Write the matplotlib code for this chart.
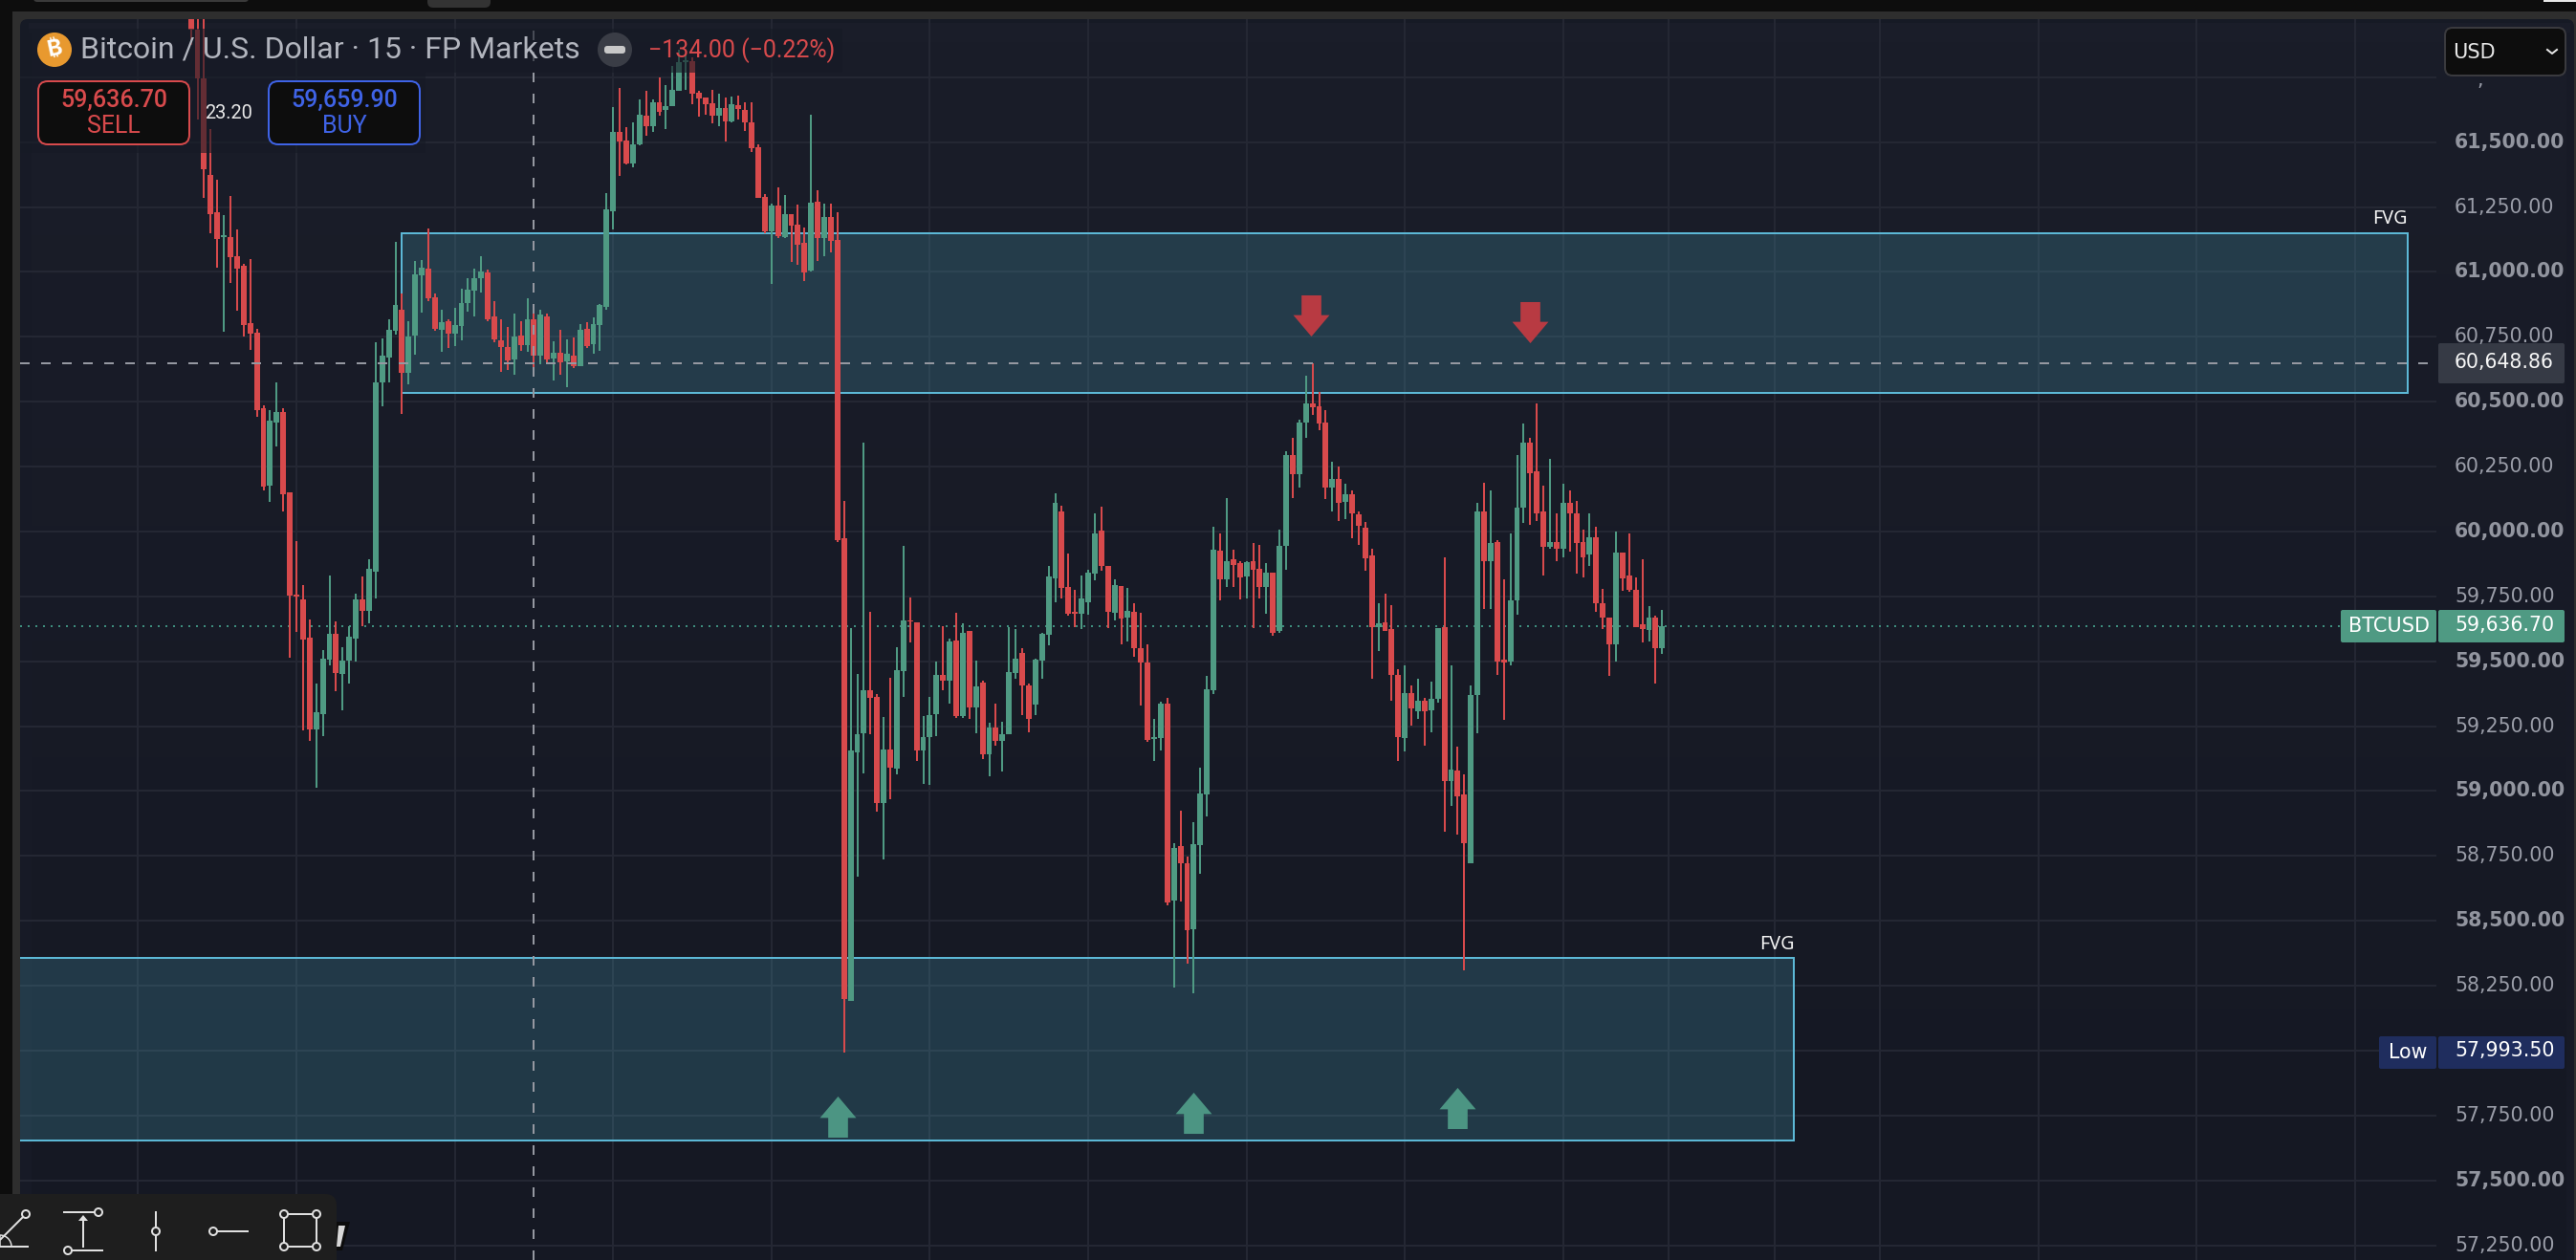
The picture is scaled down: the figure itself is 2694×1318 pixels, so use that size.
import numpy as np
import matplotlib
matplotlib.use("Agg")
import matplotlib.pyplot as plt
from matplotlib.patches import FancyBboxPatch, Rectangle, Circle, Polygon, Wedge
from matplotlib.path import Path

# ---------- data ----------
first_bar = -16  # bar index 0 sits on the 310 px grid line

opens = [
    62100, 61933, 61744, 61373, 61230, 61135, 61135, 61061, 61025, 60804,
    60767, 60474, 60176, 60419, 60460, 60151, 59757, 59739, 59592, 59239,
    59298, 59507, 59607, 59452, 59504, 59588, 59739, 59695, 59846, 60576,
    60672, 60773, 60854, 60612, 60755, 60987, 61012, 60902, 60777, 60810,
    60762, 60792, 60880, 60928, 60975, 60998, 60828, 60737, 60711, 60663,
    60755, 60718, 60817, 60677, 60829, 60667, 60689, 60656, 60678, 60637,
    60781, 60722, 60795, 60866, 61234, 61539, 61506, 61418, 61491, 61602,
    61561, 61653, 61624, 61638, 61697, 61808, 61811, 61690, 61672, 61650,
    61602, 61631, 61580, 61642, 61624, 61576, 61480, 61289, 61157, 61256,
    61135, 61223, 61183, 61113, 61006, 61271, 61131, 61212, 61124, 59973,
    58192, 59148, 59222, 59388, 59362, 58953, 59160, 59086, 59462, 59659,
    59649, 59156, 59207, 59296, 59447, 59424, 59579, 59289, 59616, 59321,
    59417, 59142, 59243, 59192, 59219, 59454, 59531, 59406, 59332, 59501,
    59603, 59820, 60076, 59786, 59689, 59682, 59726, 59838, 60002, 59869,
    59685, 59789, 59667, 59689, 59549, 59495, 59199, 59204, 59335, 58578,
    58788, 58721, 58468, 58792, 58987, 59388, 59925, 59815, 59892, 59877,
    59825, 59887, 59858, 59785, 59840, 59616, 59946, 60296, 60219, 60418,
    60492, 60484, 60418, 60170, 60201, 60114, 60142, 60065, 60014, 59907,
    59633, 59649, 59623, 59447, 59204, 59376, 59306, 59347, 59311, 59355,
    59631, 59038, 59079, 58987, 58721, 59370, 60076, 59884, 59958, 59505,
    59500, 59733, 60091, 60344, 60231, 60076, 59940, 59961, 59932, 60112,
    60071, 59961, 59910, 59979, 59723, 59667, 59564, 59917, 59830, 59774,
    59641, 59620, 59670, 59549,
]
highs = [
    62200, 62050, 62100, 61550, 61355, 61219, 61293, 61164, 61032, 61050,
    60782, 60485, 60467, 60576, 60474, 60151, 59963, 59794, 59662, 59415,
    59544, 59831, 59654, 59555, 59636, 59761, 59827, 59893, 60729, 60744,
    60819, 61115, 60917, 60810, 61042, 61045, 61167, 60917, 60854, 60817,
    60862, 60935, 60975, 61012, 61060, 61009, 60887, 60817, 60788, 60839,
    60810, 60898, 60869, 60854, 60839, 60733, 60777, 60740, 60748, 60799,
    60806, 60825, 60876, 61304, 61635, 61708, 61558, 61576, 61664, 61697,
    61664, 61749, 61719, 61793, 61855, 61838, 61826, 61697, 61672, 61701,
    61686, 61672, 61675, 61679, 61653, 61653, 61491, 61300, 61263, 61326,
    61297, 61223, 61260, 61172, 61605, 61315, 61263, 61263, 61230, 60119,
    59626, 59450, 60341, 59689, 59373, 59284, 59436, 59554, 59943, 59744,
    59649, 59288, 59363, 59500, 59634, 59587, 59685, 59646, 59616, 59501,
    59424, 59263, 59335, 59266, 59633, 59623, 59549, 59413, 59510, 59608,
    59866, 60148, 60099, 59914, 59776, 59830, 59854, 60071, 60094, 59869,
    59815, 59789, 59781, 59723, 59685, 59567, 59278, 59344, 59358, 58798,
    58923, 58747, 58880, 59089, 59442, 60020, 59991, 60127, 59928, 59887,
    59886, 59955, 59950, 59877, 59841, 60006, 60311, 60359, 60429, 60600,
    60648.86, 60536, 60466, 60267, 60252, 60183, 60160, 60079, 60035, 59935,
    59723, 59759, 59715, 59468, 59483, 59406, 59432, 59360, 59421, 59626,
    59902, 59483, 59171, 59064, 59406, 60112, 60186, 60160, 59965, 59815,
    59994, 60296, 60415, 60359, 60492, 60178, 60280, 60071, 60183, 60157,
    60116, 60009, 60071, 60017, 59777, 59670, 59999, 59917, 59991, 59822,
    59892, 59712, 59674, 59697,
]
lows = [
    61875, 61587, 61287, 61150, 61017, 60768, 60956, 60849, 60750, 60699,
    60441, 60158, 60114, 60328, 60077, 59515, 59614, 59232, 59195, 59011,
    59213, 59485, 59386, 59312, 59415, 59500, 59636, 59647, 59743, 60482,
    60576, 60759, 60452, 60567, 60681, 60843, 60887, 60773, 60692, 60707,
    60714, 60737, 60847, 60828, 60920, 60810, 60729, 60615, 60622, 60604,
    60696, 60692, 60608, 60645, 60652, 60582, 60604, 60556, 60630, 60637,
    60707, 60685, 60696, 60854, 61164, 61370, 61414, 61403, 61488, 61525,
    61539, 61602, 61550, 61638, 61697, 61701, 61646, 61598, 61605, 61572,
    61561, 61502, 61576, 61587, 61543, 61462, 61286, 61149, 60955, 61131,
    61131, 61039, 61028, 60966, 61002, 61043, 61061, 61076, 59958, 57993.5,
    58192, 58670, 59069, 59220, 58921, 58736, 58967, 59066, 59362, 59572,
    59115, 59027, 59023, 59211, 59388, 59335, 59281, 59283, 59278, 59222,
    59122, 59056, 59174, 59074, 59219, 59432, 59291, 59225, 59291, 59432,
    59562, 59726, 59743, 59674, 59631, 59623, 59679, 59812, 59848, 59628,
    59656, 59567, 59578, 59519, 59329, 59189, 59115, 59156, 58560, 58243,
    58575, 58335, 58222, 58682, 58902, 59373, 59733, 59785, 59785, 59738,
    59741, 59628, 59741, 59682, 59597, 59611, 59851, 60130, 60171, 60359,
    60451, 60392, 60124, 60076, 60042, 60047, 59973, 59950, 59848, 59434,
    59539, 59618, 59347, 59115, 59151, 59252, 59278, 59174, 59225, 59340,
    58843, 58943, 58831, 58309, 58721, 59222, 59703, 59703, 59447, 59273,
    59483, 59679, 60032, 60027, 60042, 59830, 59932, 59887, 59902, 59922,
    59836, 59822, 59869, 59689, 59623, 59442, 59498, 59771, 59766, 59631,
    59572, 59578, 59413, 59528,
]
closes = [
    61933, 61744, 61397, 61223, 61127, 61140, 61058, 61013, 60797, 60763,
    60467, 60173, 60426, 60460, 60143, 59754, 59750, 59585, 59239, 59305,
    59511, 59607, 59456, 59504, 59596, 59739, 59695, 59857, 60576, 60679,
    60778, 60873, 60612, 60751, 60990, 61016, 60898, 60781, 60806, 60762,
    60795, 60880, 60931, 60975, 61001, 60817, 60740, 60711, 60659, 60751,
    60718, 60817, 60677, 60836, 60663, 60689, 60652, 60685, 60637, 60777,
    60714, 60799, 60873, 61241, 61539, 61502, 61418, 61491, 61605, 61561,
    61653, 61616, 61638, 61701, 61808, 61815, 61686, 61668, 61646, 61602,
    61631, 61580, 61646, 61627, 61576, 61477, 61286, 61157, 61256, 61138,
    61223, 61179, 61105, 60999, 61267, 61131, 61212, 61120, 59965, 58199,
    59156, 59219, 59388, 59358, 58953, 59160, 59089, 59465, 59656, 59652,
    59156, 59207, 59291, 59447, 59427, 59575, 59288, 59611, 59321, 59403,
    59143, 59243, 59194, 59219, 59457, 59510, 59406, 59278, 59505, 59605,
    59825, 60112, 59782, 59682, 59684, 59741, 59843, 59991, 59866, 59689,
    59792, 59664, 59694, 59549, 59495, 59196, 59207, 59335, 58570, 58779,
    58721, 58463, 58795, 58990, 59391, 59928, 59815, 59887, 59871, 59822,
    59881, 59854, 59785, 59840, 59611, 59946, 60293, 60219, 60418, 60492,
    60479, 60415, 60168, 60204, 60112, 60145, 60068, 60022, 59896, 59633,
    59646, 59618, 59447, 59207, 59376, 59317, 59347, 59306, 59355, 59626,
    59038, 59082, 58979, 58798, 59370, 60076, 59884, 59955, 59498, 59495,
    59733, 60091, 60341, 60226, 60068, 59940, 59958, 59932, 60112, 60071,
    59955, 59902, 59979, 59723, 59667, 59564, 59917, 59820, 59774, 59631,
    59623, 59670, 59549, 59636.7,
]

price_ticks = [61500, 61250, 61000, 60750, 60500, 60250, 60000, 59750, 59500,
               59250, 59000, 58750, 58500, 58250, 57750, 57500, 57250]
h_grid_prices = [61750] + price_ticks + [58000]
v_grid_bars = [-24, 0, 24, 48, 72, 96, 120, 144, 168, 192, 208, 224, 240, 264, 288, 312]

fvg_upper = (16, 320, 60534, 61150)   # left bar, right bar, low, high
fvg_lower = (-60, 227, 57655, 58358)

up_arrow_bars = [82, 136, 176]
up_arrow_prices = [57744, 57759, 57777]
down_arrow_bars = [153.8, 187]
down_arrow_prices = [60834, 60808]

last_price = 59636.70
cross_price = 60648.86
cross_bar = 36

# ---------- colours ----------
GREEN = "#4f9a83"
RED = "#d84a4c"
GRID = "#242733"
BORDER = "#5cb8d6"
TICK = "#9a9da8"
PANE = "#161a25"
DARK = "#0d0d0d"

W, H = 2694, 1318
PX = 0.72  # one image pixel in points at dpi 100

fig = plt.figure(figsize=(W / 100, H / 100), dpi=100, facecolor=DARK)


def pixel_axes(z):
    a = fig.add_axes([0, 0, 1, 1], zorder=z)
    a.set_xlim(0, W)
    a.set_ylim(H, 0)
    a.axis("off")
    a.patch.set_alpha(0)
    return a


# window frame and pane
bg = pixel_axes(0)
bg.add_patch(Rectangle((13, 12), W, H, fc="#2e2e2e", lw=0))
bg.add_patch(FancyBboxPatch((27, 26), 2659, 1300, boxstyle="round,pad=6,rounding_size=8", fc=PANE, lw=0))
grad = np.linspace(0, 1, 64).reshape(-1, 1)
cmap = matplotlib.colors.LinearSegmentedColormap.from_list("pane", ["#1a1d29", "#151823"])
bg.imshow(grad, extent=(30, 2688, 1318, 24), cmap=cmap, aspect="auto", zorder=1)
bg.add_patch(Rectangle((21, 34), 12, H, fc="#171a26", lw=0, zorder=1))
bg.add_patch(Rectangle((2684, 34), 8, H, fc="#171a26", lw=0, zorder=1))
bg.add_patch(FancyBboxPatch((37, -8), 221, 8, boxstyle="round,pad=2,rounding_size=4", fc="#3a3a3a", lw=0))
bg.add_patch(FancyBboxPatch((449, -8), 62, 14, boxstyle="round,pad=2,rounding_size=6", fc="#333333", lw=0))
bg.add_patch(Rectangle((2660, 0), 34, 2, fc="#e8e8e8", lw=0))
bg.set_xlim(0, W)
bg.set_ylim(H, 0)

# main chart axes: 21..2548 px wide, 20..1318 px tall
ax = fig.add_axes([21 / W, 0, (2548 - 21) / W, (H - 20) / H], zorder=1)
ax.patch.set_alpha(0)
ax.set_xlim((21 - 310) / 6.9, (2548 - 310) / 6.9)
ax.set_ylim(61500 - (H - 148.7) / 0.2715, 61500 + (148.7 - 20) / 0.2715)
ax.axis("off")

for p in h_grid_prices:
    ax.axhline(p, color=GRID, lw=2 * PX, zorder=1)
for b in v_grid_bars:
    ax.axvline(b, color=GRID, lw=2 * PX, zorder=1)

# FVG boxes
for left, right, low, high in (fvg_upper, fvg_lower):
    ax.add_patch(Rectangle((left, low), right - left, high - low, fc="#4ba3bb", alpha=0.24, lw=0, zorder=2))
    ax.add_patch(Rectangle((left, low), right - left, high - low, fc="none", ec=BORDER, lw=2 * PX, zorder=2.1))

# last price line under the candles
ax.axhline(last_price, color="#3e8e7e", lw=2 * PX, ls=(0, (1, 3)), zorder=2.5)

# candles
bars = np.arange(first_bar, first_bar + len(opens))
o = np.array(opens)
h = np.array(highs)
l = np.array(lows)
c = np.array(closes)
colors = np.where(c >= o, GREEN, RED)
ax.vlines(bars, l, h, colors=colors, lw=2 * PX, zorder=3)
ax.bar(bars, np.maximum(np.abs(c - o), 5), bottom=np.minimum(o, c), width=0.86, color=colors, lw=0, zorder=3.1)

# crosshair
ax.axhline(cross_price, color="#9598a1", lw=2 * PX, ls=(0, (5, 6)), zorder=4)
ax.axvline(cross_bar, color="#9598a1", lw=2 * PX, ls=(0, (5, 6)), zorder=4)

# marker arrows
up_path = Path([(-0.44, -0.02), (0, 0.5), (0.44, -0.02), (0.24, -0.02), (0.24, -0.5), (-0.24, -0.5), (-0.24, -0.02), (-0.44, -0.02)], closed=True)
down_path = Path([(-0.44, 0.02), (-0.24, 0.02), (-0.24, 0.5), (0.24, 0.5), (0.24, 0.02), (0.44, 0.02), (0, -0.5), (-0.44, 0.02)], closed=True)
ax.plot(up_arrow_bars, up_arrow_prices, ls="none", marker=up_path, ms=31, mfc="#4c9583", mec="none", zorder=5)
ax.plot(down_arrow_bars, down_arrow_prices, ls="none", marker=down_path, ms=31, mfc="#b83a42", mec="none", zorder=5)

ax.text(fvg_upper[1], fvg_upper[3] + 18, "FVG", color="#f4f4f4", fontsize=14.2, ha="right", va="bottom", family="Noto Sans", zorder=6)
ax.text(fvg_lower[1], fvg_lower[3] + 14, "FVG", color="#f4f4f4", fontsize=14.2, ha="right", va="bottom", family="Noto Sans", zorder=6)

# everything that lies on top of the chart, in image pixels
ui = pixel_axes(2)

# legend dims the candles below it
ui.add_patch(Rectangle((21, 30), 860, 46, fc=PANE, alpha=0.6, lw=0))
ui.add_patch(Rectangle((21, 76), 424, 84, fc=PANE, alpha=0.6, lw=0))

# price axis strip
for p in price_ticks:
    y = 148.7 + (61500 - p) * 0.2715
    strong = p % 500 == 0
    ui.text(2567, y, f"{p:,.2f}", color="#92959f" if strong else TICK, fontsize=14.8, family="DejaVu Sans",
            fontweight="bold" if strong else "normal", ha="left", va="center")
ui.text(2594, 84, ",", color=TICK, fontsize=14.8, family="DejaVu Sans", ha="center", va="center")

ui.add_patch(FancyBboxPatch((2552, 361), 128, 38, boxstyle="round,pad=2,rounding_size=2", fc="#363a45", lw=0))
ui.text(2567, 379, f"{cross_price:,.2f}", color="#f6f6f6", fontsize=14.8, family="DejaVu Sans", ha="left", va="center")

ui.add_patch(FancyBboxPatch((2450, 640), 96, 30, boxstyle="round,pad=2,rounding_size=2", fc=GREEN, lw=0))
ui.add_patch(FancyBboxPatch((2552, 640), 128, 30, boxstyle="round,pad=2,rounding_size=2", fc=GREEN, lw=0))
ui.text(2498, 655, "BTCUSD", color="white", fontsize=15, family="DejaVu Sans", ha="center", va="center")
ui.text(2567, 654, f"{last_price:,.2f}", color="white", fontsize=14.8, family="DejaVu Sans", ha="left", va="center")

ui.add_patch(FancyBboxPatch((2490, 1086), 56, 30, boxstyle="round,pad=2,rounding_size=2", fc="#1f2d5e", lw=0))
ui.add_patch(FancyBboxPatch((2552, 1086), 128, 30, boxstyle="round,pad=2,rounding_size=2", fc="#1f2d5e", lw=0))
ui.text(2518, 1101, "Low", color="white", fontsize=14.8, family="DejaVu Sans", ha="center", va="center")
ui.text(2567, 1099, "57,993.50", color="white", fontsize=14.8, family="DejaVu Sans", ha="left", va="center")

# currency box
ui.add_patch(FancyBboxPatch((2563, 35), 114, 38, boxstyle="round,pad=6,rounding_size=8", fc=DARK, ec="#3a3a3e", lw=2 * PX))
ui.text(2565, 55, "USD", color="#e6e6e6", fontsize=15, family="DejaVu Sans", ha="left", va="center")
ui.plot([2664, 2669, 2674], [52, 56, 52], color="#e6e6e6", lw=2 * PX)

# title row
ui.add_patch(Circle((57, 52), 18, fc="#e8992f", lw=0))
ui.text(57, 52, "\u20bf", color="white", fontsize=17, family=["Inter", "Noto Sans", "Roboto", "Open Sans", "Lato", "Noto Sans CJK SC", "DejaVu Sans"],
        fontweight="bold", ha="center", va="center", rotation=12)
ui.text(84, 52, "Bitcoin / U.S. Dollar \u00b7 15 \u00b7 FP Markets", color="#b2b5be", fontsize=23, family="Roboto", ha="left", va="center")
ui.add_patch(Circle((643, 52), 18, fc="#3a3d46", lw=0))
ui.add_patch(FancyBboxPatch((634, 50), 18, 4, boxstyle="round,pad=2,rounding_size=3", fc="#c8c8c8", lw=0))
ui.text(678, 53, "\u2212134.00 (\u22120.22%)", color=RED, fontsize=18, family="Roboto", ha="left", va="center")

# sell / buy boxes
for x0, line, price, word in ((40, RED, "59,636.70", "SELL"), (281, "#3f63e6", "59,659.90", "BUY")):
    ui.add_patch(FancyBboxPatch((x0 + 8, 93), 142, 50, boxstyle="round,pad=8,rounding_size=10", fc=DARK, ec=line, lw=2 * PX))
    ui.text(x0 + 79, 105, price, color=line, fontsize=18, family="Roboto", fontweight="medium", ha="center", va="center")
    ui.text(x0 + 79, 132, word, color=line, fontsize=18, family="Roboto", ha="center", va="center")
ui.text(239, 118, "23.20", color="#e8e8e8", fontsize=14.4, family="Roboto", ha="center", va="center")

# drawing toolbar at the bottom left
ICON = "#e0e0e0"
TOOLBAR = "#1e1e1e"
ui.add_patch(Polygon([(352, 1278), (366, 1278), (358, 1308), (352, 1308)], fc="#0c0c0c", lw=0))
ui.add_patch(Polygon([(354, 1282), (361, 1282), (356, 1304), (352, 1304)], fc="#d8d8d8", lw=0))
ui.add_patch(FancyBboxPatch((-10, 1259), 352, 80, boxstyle="round,pad=10,rounding_size=12", fc=TOOLBAR, lw=0))


def seg(x0, y0, x1, y1):
    ui.plot([x0, x1], [y0, y1], color=ICON, lw=2 * PX, solid_capstyle="butt", zorder=5)


def knob(x, y):
    ui.add_patch(Circle((x, y), 4, fc=TOOLBAR, ec=ICON, lw=2 * PX, zorder=6))


seg(0, 1297, 27, 1270); seg(0, 1304, 30, 1304); knob(27, 1270)
ui.add_patch(Wedge((0, 1304), 12, -90, 0, fc="none", ec=ICON, lw=1.5 * PX, zorder=5))
seg(66, 1268, 100, 1268); knob(103, 1268)
seg(87, 1277, 87, 1305); seg(75, 1308, 108, 1308); knob(71, 1308)
ui.add_patch(Polygon([(82, 1277), (87, 1271), (92, 1277)], fc=ICON, lw=0, zorder=5))
seg(163, 1267, 163, 1309); knob(163, 1288)
seg(223, 1288, 260, 1288); knob(223, 1288)
seg(297, 1270, 331, 1270); seg(297, 1304, 331, 1304); seg(297, 1270, 297, 1304); seg(331, 1270, 331, 1304)
for kx, ky in ((297, 1270), (331, 1270), (297, 1304), (331, 1304)):
    knob(kx, ky)

ui.set_xlim(0, W)
ui.set_ylim(H, 0)

fig.savefig("out.png", dpi=100, facecolor=DARK)
